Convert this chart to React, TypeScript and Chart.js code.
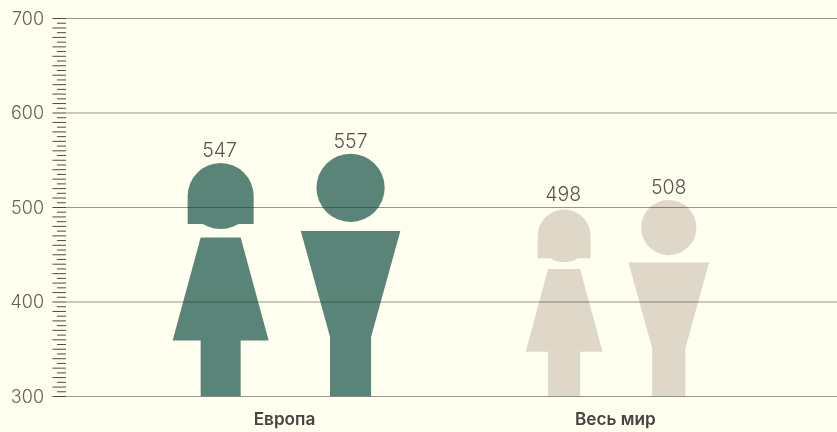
import React, { useEffect, useRef } from "react";
import { Chart, registerables, BarController } from "chart.js";

const categories = ["Европа", "Весь мир"];
const womenScores = [547, 498];
const menScores = [557, 508];
const yTickStep = 5;
const GREEN = "#5a8478";
const BEIGE = "#dfd8c8";
const TEXT_FONT = "Inter";

function drawWoman(ctx: CanvasRenderingContext2D, cx: number, top: number, base: number) {
  const h = base - top;
  const r = 0.1414 * h;
  ctx.beginPath();
  ctx.arc(cx, top + r, r, 0, Math.PI * 2);
  ctx.rect(cx - r, top + r, 2 * r, 0.2614 * h - r);
  ctx.fill();
  const waist = 0.0857 * h;
  const hem = 0.2057 * h;
  ctx.beginPath();
  ctx.moveTo(cx - waist, top + 0.3192 * h);
  ctx.lineTo(cx + waist, top + 0.3192 * h);
  ctx.lineTo(cx + hem, top + 0.7605 * h);
  ctx.lineTo(cx + waist, top + 0.7605 * h);
  ctx.lineTo(cx + waist, base);
  ctx.lineTo(cx - waist, base);
  ctx.lineTo(cx - waist, top + 0.7605 * h);
  ctx.lineTo(cx - hem, top + 0.7605 * h);
  ctx.closePath();
  ctx.fill();
}

function drawMan(ctx: CanvasRenderingContext2D, cx: number, top: number, base: number) {
  const h = base - top;
  const r = 0.1405 * h;
  ctx.beginPath();
  ctx.arc(cx, top + r, r, 0, Math.PI * 2);
  ctx.fill();
  const shoulder = 0.205 * h;
  const hip = 0.0845 * h;
  ctx.beginPath();
  ctx.moveTo(cx - shoulder, top + 0.3186 * h);
  ctx.lineTo(cx + shoulder, top + 0.3186 * h);
  ctx.lineTo(cx + hip, top + 0.755 * h);
  ctx.lineTo(cx + hip, base);
  ctx.lineTo(cx - hip, base);
  ctx.lineTo(cx - hip, top + 0.755 * h);
  ctx.closePath();
  ctx.fill();
}

class PictogramController extends BarController {
  static id = "pictogram";
  static defaults = BarController.defaults;
  static overrides = BarController.overrides;
  draw() {
    const ctx = this.chart.ctx as CanvasRenderingContext2D;
    const meta = this.getMeta();
    const ds = this.getDataset() as any;
    const isWoman = ds.figure === "woman";
    const yScale = this.chart.scales.y;
    const basePx = yScale.getPixelForValue(yScale.min);
    meta.data.forEach((el: any, i: number) => {
      const h = basePx - el.y;
      const cx = el.x + (isWoman ? -0.2735 : 0.272) * h;
      ctx.save();
      ctx.fillStyle = ds.backgroundColor[i];
      (isWoman ? drawWoman : drawMan)(ctx, cx, el.y, basePx);
      ctx.fillStyle = "#55554f";
      ctx.font = `300 19.5px ${TEXT_FONT}`;
      ctx.textAlign = "center";
      ctx.textBaseline = "alphabetic";
      ctx.fillText(String(ds.data[i].y), cx - (isWoman ? 1 : 0), el.y - (isWoman && i === 1 ? 8.5 : 6));
      ctx.restore();
    });
  }
}

const gridPlugin = {
  id: "rulerGrid",
  afterDatasetsDraw(chart: any) {
    const { ctx, chartArea, scales } = chart;
    const y = scales.y;
    ctx.save();
    ctx.lineWidth = 1;
    y.ticks.forEach((t: any) => {
      const v = t.value;
      const py = y.getPixelForValue(v);
      const long = v % 10 === 0;
      ctx.strokeStyle = "rgba(45,45,40,0.85)";
      ctx.beginPath();
      ctx.moveTo(long ? 52.5 : 57, py);
      ctx.lineTo(chartArea.left, py);
      ctx.stroke();
      if (v % 100 === 0) {
        ctx.strokeStyle = "rgba(45,45,40,0.5)";
        ctx.beginPath();
        ctx.moveTo(chartArea.left, py);
        ctx.lineTo(chartArea.right, py);
        ctx.stroke();
      }
    });
    ctx.restore();
  },
};

Chart.register(...registerables, PictogramController);

export default function App() {
  const ref = useRef<HTMLCanvasElement>(null);
  useEffect(() => {
    const chart = new Chart(ref.current!, {
      type: "pictogram" as any,
      data: {
        datasets: [
          {
            label: "Женщины",
            figure: "woman",
            grouped: false,
            backgroundColor: [GREEN, BEIGE],
            data: womenScores.map((v, i) => ({ x: i, y: v })),
          },
          {
            label: "Мужчины",
            figure: "man",
            grouped: false,
            backgroundColor: [GREEN, BEIGE],
            data: menScores.map((v, i) => ({ x: i, y: v })),
          },
        ] as any,
      },
      options: {
        animation: false,
        responsive: false,
        layout: { padding: { top: 18.5, right: 0, bottom: 0, left: 0 } },
        plugins: { legend: { display: false }, tooltip: { enabled: false }, title: { display: false } },
        scales: {
          x: {
            type: "linear",
            offset: false,
            min: -0.6605,
            max: 1.6702,
            grid: { display: false, drawTicks: false, offset: false },
            border: { display: false },
            afterFit: (s: any) => { s.height = 35.5; s.paddingLeft = 0; s.paddingRight = 0; },
            ticks: {
              stepSize: 1,
              includeBounds: false,
              autoSkip: false,
              maxRotation: 0,
              padding: 13,
              color: "#45453f",
              font: { family: TEXT_FONT, size: 17.2, weight: "600" },
              callback: (v: any) => categories[v] ?? "",
            },
          },
          y: {
            type: "linear",
            min: 300,
            max: 700,
            grid: { display: false, drawTicks: false },
            border: { display: false },
            afterFit: (s: any) => { s.width = 66; s.paddingTop = 0; s.paddingBottom = 0; },
            ticks: {
              stepSize: yTickStep,
              autoSkip: false,
              padding: 22,
              labelOffset: 1,
              color: "#62625c",
              font: { family: TEXT_FONT, size: 18, weight: "300" },
              callback: (v: any) => (v % 100 === 0 ? String(v) : ""),
            },
          },
        },
      },
      plugins: [gridPlugin],
    } as any);
    return () => chart.destroy();
  }, []);
  return (
    <div style={{ position: "absolute", left: 0, top: 0, width: 837, height: 432, background: "#fffeef" }}>
      <canvas ref={ref} width={837} height={432} style={{ display: "block" }} />
    </div>
  );
}
